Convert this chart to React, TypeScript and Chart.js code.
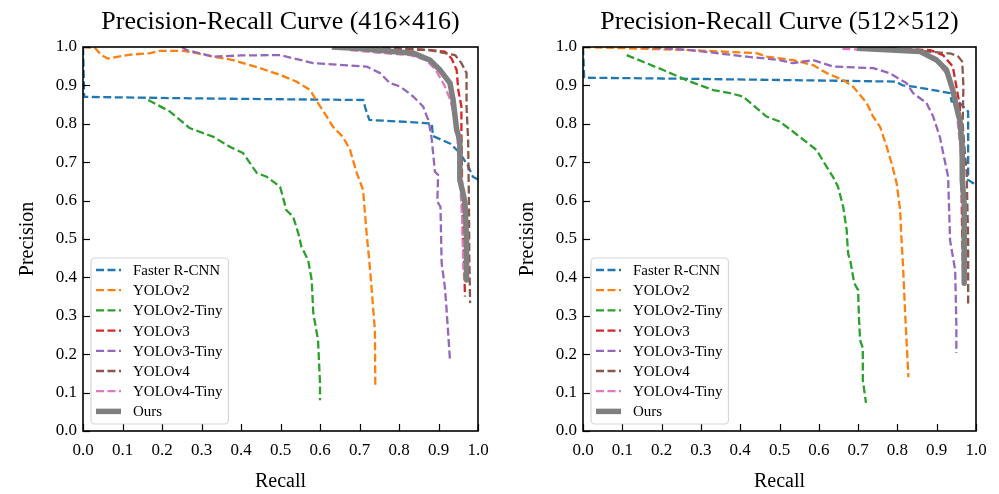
import React, { useEffect, useRef } from "react";
import { Chart, registerables } from "chart.js";

Chart.register(...registerables);

const FONT = "'Liberation Serif', 'Times New Roman', serif";

const seriesNames = ["Faster R-CNN", "YOLOv2", "YOLOv2-Tiny", "YOLOv3", "YOLOv3-Tiny", "YOLOv4", "YOLOv4-Tiny", "Ours"];
const seriesColors = ["#1f77b4", "#ff7f0e", "#2ca02c", "#d62728", "#9467bd", "#8c564b", "#e377c2", "#7f7f7f"];
const axisTicks = [0, 0.1, 0.2, 0.3, 0.4, 0.5, 0.6, 0.7, 0.8, 0.9, 1.0];

// ---------- 416x416 ----------
const fasterRcnnRecall416 = [0, 0.003, 0.3, 0.6, 0.71, 0.715, 0.725, 0.8, 0.883, 0.886, 0.93, 0.954, 0.975, 0.987, 1.0];
const fasterRcnnPrecision416 = [1.0, 0.87, 0.866, 0.863, 0.862, 0.84, 0.81, 0.806, 0.801, 0.768, 0.748, 0.724, 0.69, 0.662, 0.655];
const yolov2Recall416 = [0.0, 0.03, 0.045, 0.063, 0.09, 0.12, 0.17, 0.195, 0.253, 0.288, 0.33, 0.38, 0.448, 0.5, 0.54, 0.575, 0.59, 0.617, 0.633, 0.658, 0.676, 0.693, 0.709, 0.718, 0.725, 0.731, 0.736, 0.739, 0.74];
const yolov2Precision416 = [1.0, 0.998, 0.98, 0.97, 0.975, 0.98, 0.984, 0.99, 0.99, 0.984, 0.975, 0.966, 0.945, 0.927, 0.91, 0.888, 0.862, 0.819, 0.792, 0.766, 0.732, 0.672, 0.628, 0.515, 0.44, 0.367, 0.3, 0.263, 0.12];
const yolov2TinyRecall416 = [0.165, 0.22, 0.27, 0.33, 0.372, 0.405, 0.44, 0.465, 0.499, 0.515, 0.532, 0.545, 0.553, 0.57, 0.579, 0.583, 0.595, 0.6, 0.6];
const yolov2TinyPrecision416 = [0.862, 0.832, 0.789, 0.766, 0.74, 0.724, 0.672, 0.662, 0.636, 0.575, 0.558, 0.515, 0.48, 0.445, 0.393, 0.307, 0.237, 0.125, 0.08];
const yolov3Recall416 = [0.7, 0.878, 0.916, 0.933, 0.946, 0.95, 0.958, 0.958, 0.96, 0.962, 0.965, 0.967];
const yolov3Precision416 = [1.0, 0.992, 0.988, 0.97, 0.94, 0.888, 0.845, 0.776, 0.628, 0.5, 0.437, 0.35];
const yolov3TinyRecall416 = [0.25, 0.262, 0.33, 0.4, 0.499, 0.583, 0.658, 0.718, 0.752, 0.777, 0.803, 0.836, 0.861, 0.874, 0.88, 0.883, 0.891, 0.899, 0.897, 0.905, 0.908, 0.916, 0.92, 0.929];
const yolov3TinyPrecision416 = [1.0, 0.992, 0.975, 0.978, 0.979, 0.958, 0.953, 0.949, 0.932, 0.906, 0.897, 0.871, 0.845, 0.81, 0.78, 0.758, 0.675, 0.667, 0.597, 0.584, 0.437, 0.376, 0.323, 0.185];
const yolov4Recall416 = [0.7, 0.878, 0.942, 0.958, 0.971, 0.971, 0.975, 0.977, 0.978, 0.98];
const yolov4Precision416 = [1.0, 0.992, 0.979, 0.958, 0.932, 0.845, 0.758, 0.6, 0.45, 0.333];
const yolov4TinyRecall416 = [0.676, 0.75, 0.828, 0.87, 0.893, 0.915, 0.93, 0.94, 0.946, 0.952, 0.96, 0.963];
const yolov4TinyPrecision416 = [0.992, 0.985, 0.979, 0.965, 0.94, 0.9, 0.862, 0.82, 0.784, 0.7, 0.55, 0.42];
const oursRecall416 = [0.63, 0.7, 0.836, 0.878, 0.904, 0.929, 0.937, 0.946, 0.954, 0.954, 0.962, 0.967, 0.971, 0.971];
const oursPrecision416 = [1.0, 0.996, 0.984, 0.966, 0.94, 0.906, 0.862, 0.784, 0.758, 0.654, 0.62, 0.594, 0.497, 0.393];

// ---------- 512x512 ----------
const fasterRcnnRecall512 = [0, 0.003, 0.2, 0.508, 0.797, 0.814, 0.84, 0.934, 0.938, 0.959, 0.98, 0.98, 0.992, 1.0];
const fasterRcnnPrecision512 = [1.0, 0.92, 0.918, 0.914, 0.91, 0.9, 0.897, 0.88, 0.858, 0.854, 0.832, 0.654, 0.646, 0.64];
const yolov2Recall512 = [0, 0.272, 0.441, 0.467, 0.534, 0.585, 0.62, 0.662, 0.687, 0.722, 0.738, 0.756, 0.773, 0.785, 0.798, 0.807, 0.81, 0.814, 0.82, 0.828];
const yolov2Precision512 = [1.0, 0.992, 0.984, 0.975, 0.966, 0.953, 0.932, 0.914, 0.897, 0.854, 0.819, 0.792, 0.74, 0.698, 0.646, 0.575, 0.506, 0.437, 0.3, 0.14];
const yolov2TinyRecall512 = [0.111, 0.204, 0.272, 0.331, 0.374, 0.407, 0.467, 0.5, 0.534, 0.594, 0.62, 0.636, 0.649, 0.662, 0.671, 0.672, 0.675, 0.68, 0.69, 0.7, 0.702, 0.705, 0.712, 0.712, 0.72];
const yolov2TinyPrecision512 = [0.979, 0.94, 0.91, 0.888, 0.88, 0.871, 0.819, 0.806, 0.78, 0.732, 0.688, 0.662, 0.636, 0.584, 0.523, 0.5, 0.46, 0.445, 0.385, 0.367, 0.3, 0.237, 0.216, 0.133, 0.073];
const yolov3Recall512 = [0.7, 0.883, 0.916, 0.941, 0.95, 0.959, 0.962, 0.965, 0.968];
const yolov3Precision512 = [1.0, 0.992, 0.979, 0.949, 0.897, 0.845, 0.7, 0.5, 0.38];
const yolov3TinyRecall512 = [0.15, 0.204, 0.272, 0.416, 0.5, 0.534, 0.585, 0.636, 0.738, 0.78, 0.823, 0.84, 0.874, 0.891, 0.908, 0.929, 0.934, 0.947, 0.95, 0.95];
const yolov3TinyPrecision512 = [1.0, 0.997, 0.992, 0.975, 0.966, 0.958, 0.966, 0.949, 0.945, 0.932, 0.906, 0.88, 0.854, 0.819, 0.766, 0.662, 0.497, 0.419, 0.28, 0.203];
const yolov4Recall512 = [0.75, 0.936, 0.955, 0.965, 0.968, 0.966, 0.972, 0.976, 0.98, 0.98];
const yolov4Precision512 = [1.0, 0.983, 0.975, 0.962, 0.897, 0.8, 0.72, 0.68, 0.5, 0.323];
const yolov4TinyRecall512 = [0.66, 0.8, 0.86, 0.9, 0.925, 0.94, 0.952, 0.962, 0.968, 0.972];
const yolov4TinyPrecision512 = [0.995, 0.99, 0.985, 0.962, 0.93, 0.88, 0.82, 0.72, 0.65, 0.6];
const oursRecall512 = [0.697, 0.858, 0.9, 0.925, 0.941, 0.95, 0.959, 0.965, 0.965, 0.97, 0.97];
const oursPrecision512 = [0.997, 0.988, 0.966, 0.94, 0.888, 0.845, 0.81, 0.74, 0.654, 0.59, 0.385];

const recalls416 = [fasterRcnnRecall416, yolov2Recall416, yolov2TinyRecall416, yolov3Recall416, yolov3TinyRecall416, yolov4Recall416, yolov4TinyRecall416, oursRecall416];
const precisions416 = [fasterRcnnPrecision416, yolov2Precision416, yolov2TinyPrecision416, yolov3Precision416, yolov3TinyPrecision416, yolov4Precision416, yolov4TinyPrecision416, oursPrecision416];
const recalls512 = [fasterRcnnRecall512, yolov2Recall512, yolov2TinyRecall512, yolov3Recall512, yolov3TinyRecall512, yolov4Recall512, yolov4TinyRecall512, oursRecall512];
const precisions512 = [fasterRcnnPrecision512, yolov2Precision512, yolov2TinyPrecision512, yolov3Precision512, yolov3TinyPrecision512, yolov4Precision512, yolov4TinyPrecision512, oursPrecision512];

const framePlugin = {
  id: "prFrame",
  afterDatasetsDraw(chart: any) {
    const ctx = chart.ctx;
    const { left, right, top, bottom } = chart.chartArea;
    const xs = chart.scales.x;
    const ys = chart.scales.y;
    ctx.save();
    ctx.strokeStyle = "#000";
    ctx.lineWidth = 1.2;
    for (const v of axisTicks) {
      const px = Math.round(xs.getPixelForValue(v)) + 0.5;
      ctx.beginPath();
      ctx.moveTo(px, bottom);
      ctx.lineTo(px, bottom - 7);
      ctx.stroke();
      const py = Math.round(ys.getPixelForValue(v)) + 0.5;
      ctx.beginPath();
      ctx.moveTo(left, py);
      ctx.lineTo(left + 7, py);
      ctx.stroke();
    }
    ctx.lineWidth = 1.6;
    ctx.strokeRect(left, top, right - left, bottom - top);
    ctx.restore();
  },
  afterDraw(chart: any, _args: any, opts: any) {
    const ctx = chart.ctx;
    const { left, right, bottom } = chart.chartArea;
    ctx.save();
    // title
    ctx.fillStyle = "#000";
    ctx.font = `26px ${FONT}`;
    ctx.textAlign = "center";
    ctx.textBaseline = "middle";
    ctx.fillText(opts.title, (left + right) / 2, 22);

    // legend
    const datasets = chart.data.datasets;
    ctx.font = `15px ${FONT}`;
    let maxW = 0;
    datasets.forEach((d: any) => {
      maxW = Math.max(maxW, ctx.measureText(d.label).width);
    });
    const bx = left + 8;
    const bh = 166;
    const by = bottom - 7 - bh;
    const bw = 42 + maxW + 6;
    ctx.beginPath();
    if (ctx.roundRect) ctx.roundRect(bx, by, bw, bh, 4);
    else ctx.rect(bx, by, bw, bh);
    ctx.fillStyle = "rgba(255,255,255,0.8)";
    ctx.fill();
    ctx.strokeStyle = "rgba(204,204,204,0.8)";
    ctx.lineWidth = 1.2;
    ctx.stroke();
    datasets.forEach((d: any, i: number) => {
      const y = by + 12 + i * 20.2;
      ctx.beginPath();
      ctx.strokeStyle = d.borderColor;
      ctx.lineWidth = d.borderWidth;
      ctx.setLineDash(d.borderDash || []);
      ctx.lineCap = "butt";
      ctx.moveTo(bx + 5, y);
      ctx.lineTo(bx + 30, y);
      ctx.stroke();
      ctx.setLineDash([]);
      ctx.fillStyle = "#000";
      ctx.textAlign = "left";
      ctx.textBaseline = "middle";
      ctx.fillText(d.label, bx + 42, y + 1);
    });
    ctx.restore();
  },
};

function PRChart(props: { title: string; recalls: number[][]; precisions: number[][]; padRight: number; width: number }) {
  const ref = useRef<HTMLCanvasElement | null>(null);
  useEffect(() => {
    if (!ref.current) return;
    const chart = new Chart(ref.current, {
      type: "line",
      data: {
        datasets: seriesNames.map((name, i) => ({
          label: name,
          data: props.recalls[i].map((r, j) => ({ x: r, y: props.precisions[i][j] })),
          borderColor: seriesColors[i],
          backgroundColor: seriesColors[i],
          borderWidth: i === 7 ? 5.5 : 2.3,
          borderDash: i === 7 ? [] : [8, 3.5],
          borderCapStyle: "butt",
          borderJoinStyle: "round",
          pointRadius: 0,
          pointHoverRadius: 0,
          fill: false,
          tension: 0,
          order: 7 - i,
          clip: 0,
        })),
      },
      options: {
        responsive: false,
        animation: false,
        devicePixelRatio: 1,
        layout: { padding: { top: 47, right: props.padRight, left: 0, bottom: 0 } },
        plugins: {
          legend: { display: false },
          tooltip: { enabled: false },
          prFrame: { title: props.title },
        } as any,
        scales: {
          x: {
            type: "linear",
            min: 0,
            max: 1,
            grid: { display: false, drawTicks: false },
            border: { display: false },
            ticks: {
              stepSize: 0.1,
              autoSkip: false,
              maxRotation: 0,
              padding: 9,
              color: "#000",
              font: { family: FONT, size: 17 },
              callback: (v: any) => Number(v).toFixed(1),
            },
            title: {
              display: true,
              text: "Recall",
              color: "#000",
              font: { family: FONT, size: 20 },
              padding: { top: 0, bottom: 0 },
            },
            afterFit: (s: any) => {
              s.height = 63;
            },
          },
          y: {
            type: "linear",
            min: 0,
            max: 1,
            grid: { display: false, drawTicks: false },
            border: { display: false },
            ticks: {
              stepSize: 0.1,
              autoSkip: false,
              padding: 6,
              color: "#000",
              font: { family: FONT, size: 17 },
              callback: (v: any) => Number(v).toFixed(1),
            },
            title: {
              display: true,
              text: "Precision",
              color: "#000",
              font: { family: FONT, size: 20 },
              padding: { top: 16, bottom: 0 },
            },
            afterFit: (s: any) => {
              s.width = 83;
            },
          },
        },
      } as any,
      plugins: [framePlugin as any],
    });
    return () => chart.destroy();
  }, []);
  return <canvas ref={ref} width={props.width} height={494} style={{ display: "block", width: props.width, height: 494 }} />;
}

export default function App() {
  return (
    <div style={{ position: "absolute", left: 0, top: 0, width: 999, height: 494, display: "flex", background: "#fff" }}>
      <PRChart title="Precision-Recall Curve (416×416)" recalls={recalls416} precisions={precisions416} padRight={22} width={500} />
      <PRChart title="Precision-Recall Curve (512×512)" recalls={recalls512} precisions={precisions512} padRight={23} width={499} />
    </div>
  );
}
